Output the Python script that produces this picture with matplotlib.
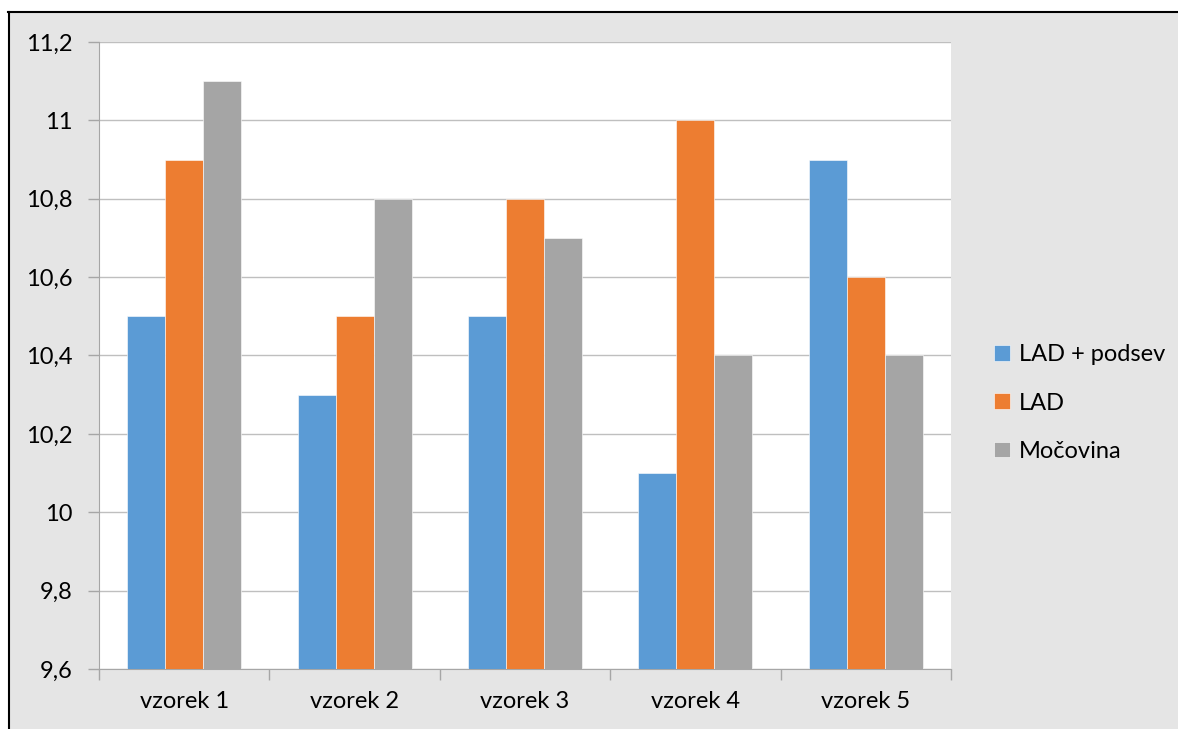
import matplotlib.pyplot as plt
import numpy as np
from matplotlib.patches import Rectangle
from matplotlib.lines import Line2D

categories = ['vzorek 1', 'vzorek 2', 'vzorek 3', 'vzorek 4', 'vzorek 5']
series_names = ['LAD + podsev', 'LAD', 'Močovina']
lad_podsev = [10.5, 10.3, 10.5, 10.1, 10.9]
lad = [10.9, 10.5, 10.8, 11.0, 10.6]
mocovina = [11.1, 10.8, 10.7, 10.4, 10.4]
colors = ['#5b9bd5', '#ed7d31', '#a5a5a5']
yticks = [9.6, 9.8, 10.0, 10.2, 10.4, 10.6, 10.8, 11.0, 11.2]
ytick_labels = ['9,6', '9,8', '10', '10,2', '10,4', '10,6', '10,8', '11', '11,2']

plt.rcParams['font.family'] = ['Lato', 'DejaVu Sans']

fig = plt.figure(figsize=(11.78, 7.29), dpi=100)
fig.patch.set_facecolor('white')

# grey chart area with black frame on left and top
fig.patches.append(Rectangle((9 / 1178, 0), 1 - 9 / 1178, 1 - 12 / 729,
                             transform=fig.transFigure, facecolor='#e5e5e5',
                             edgecolor='none', zorder=-10))
fig.lines.append(Line2D([8 / 1178, 1], [1 - 12 / 729] * 2, transform=fig.transFigure,
                        color='black', lw=1.5))
fig.lines.append(Line2D([9 / 1178] * 2, [0, 1 - 12 / 729], transform=fig.transFigure,
                        color='black', lw=1.5))

ax = fig.add_axes([99 / 1178, 60 / 729, 852 / 1178, 627 / 729])
ax.set_facecolor('white')

x = np.arange(len(categories))
w = 0.223
for i, vals in enumerate([lad_podsev, lad, mocovina]):
    ax.bar(x + (i - 1) * w, np.array(vals) - 9.6, width=w, bottom=9.6,
           color=colors[i], edgecolor='white', linewidth=0.4,
           label=series_names[i], zorder=3)

ax.set_xlim(-0.5, len(categories) - 0.5)
ax.set_ylim(9.6, 11.2)
ax.set_yticks(yticks)
ax.set_yticklabels(ytick_labels, fontsize=17)
ax.set_xticks(x)
ax.set_xticklabels(categories, fontsize=17)
ax.set_xticks(np.arange(-0.5, len(categories)), minor=True)
ax.tick_params(axis='x', which='major', length=0, pad=16)
ax.tick_params(axis='x', which='minor', length=8, color='#a6a6a6', width=1)
ax.tick_params(axis='y', length=8, color='#a6a6a6', width=1, pad=11)
ax.grid(axis='y', color='#bfbfbf', linewidth=1, zorder=0)
for side in ['top', 'right']:
    ax.spines[side].set_visible(False)
ax.spines['left'].set_color('#a6a6a6')
ax.spines['bottom'].set_color('#a6a6a6')

fig.legend(loc='center left', bbox_to_anchor=(0.826, 0.447), frameon=False,
           fontsize=17, handlelength=0.65, handleheight=0.65, handletextpad=0.4,
           labelspacing=1.15)

fig.savefig('out.png', dpi=100, facecolor=fig.get_facecolor())
